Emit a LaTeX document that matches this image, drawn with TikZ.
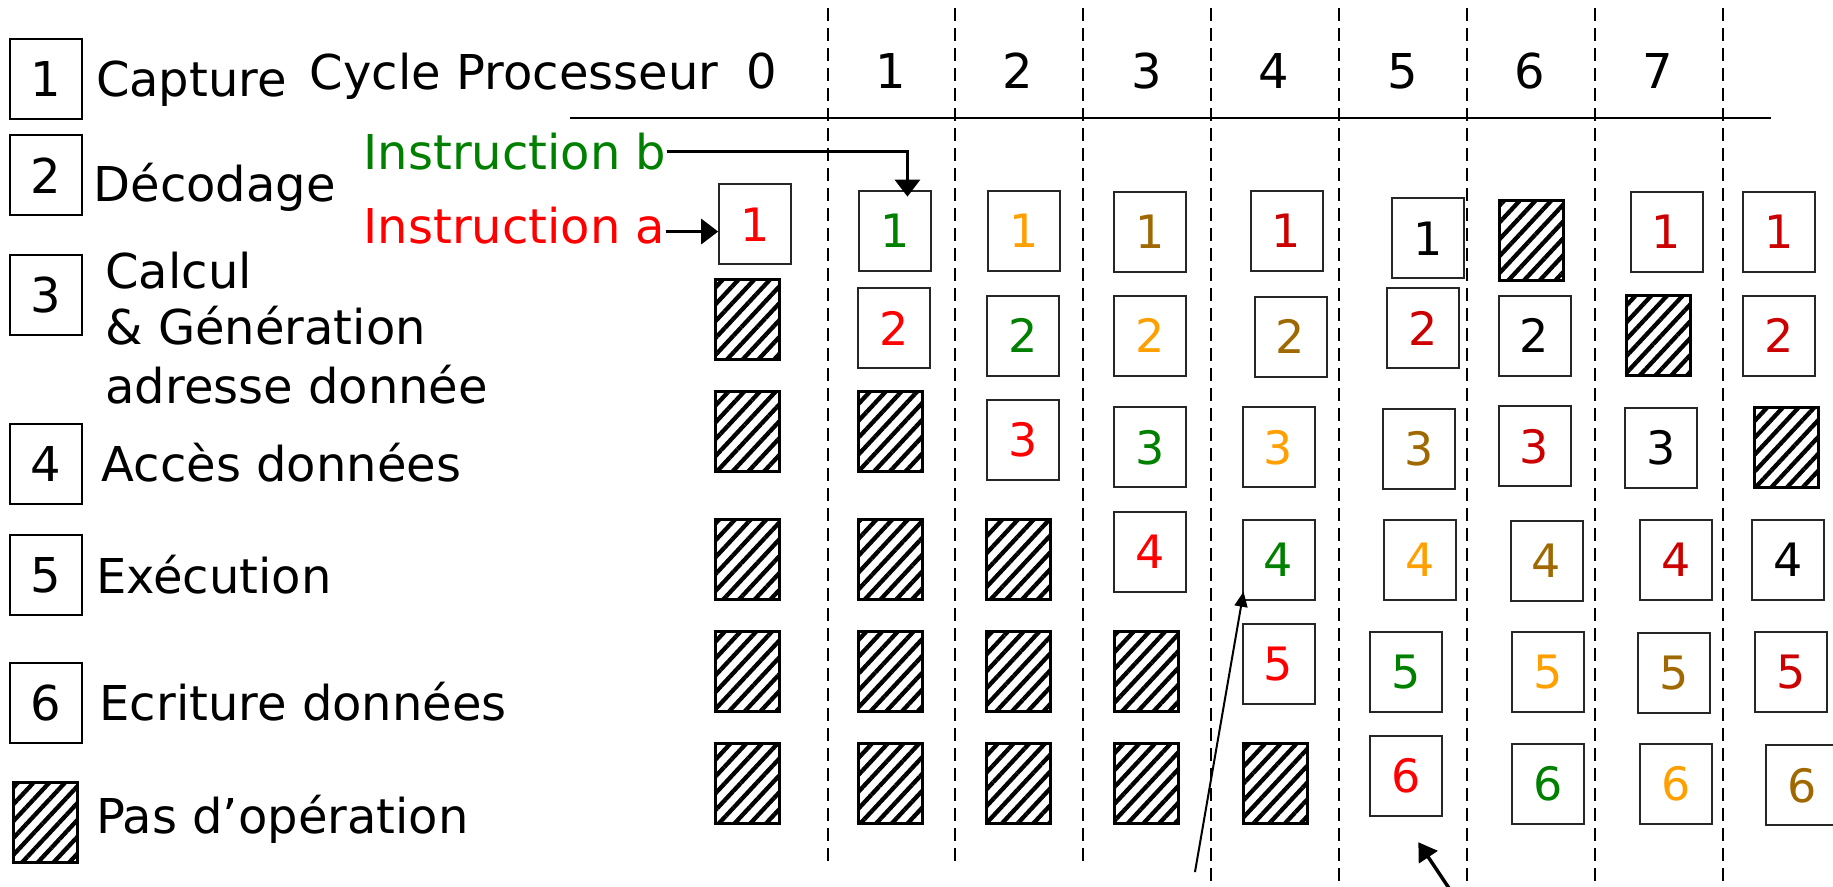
\documentclass[tikz,border=0pt]{standalone}
\usepackage{fontspec}
\setmainfont{DejaVu Sans}
\usetikzlibrary{arrows.meta,patterns.meta}

% one colour per instruction travelling through the pipeline
\definecolor{instA}{RGB}{255,0,0}
\definecolor{instB}{RGB}{0,128,0}
\definecolor{instC}{RGB}{255,160,0}
\definecolor{instD}{RGB}{160,104,0}
\definecolor{instE}{RGB}{204,0,0}
\definecolor{instF}{RGB}{0,0,0}

\tikzset{
  lbl/.style={inner sep=0pt, anchor=base west, font=\fontsize{48}{58}\selectfont},
  hdr/.style={inner sep=0pt, anchor=base, font=\fontsize{48}{58}\selectfont},
  legendbox/.style={draw, line width=2pt, minimum width=72pt, minimum height=80pt,
    inner sep=0pt, font=\fontsize{48}{48}\selectfont},
  stagebox/.style={draw=black!85, line width=2pt, fill=white, minimum width=72pt,
    minimum height=80pt, inner sep=0pt, font=\fontsize{46}{46}\selectfont},
  idle/.style={draw, line width=3pt, minimum width=64pt, minimum height=80pt, inner sep=0pt,
    preaction={fill=white},
    pattern={Lines[angle=47,distance=11.5pt,line width=4.3pt]}},
  cycleline/.style={dash pattern=on 13pt off 7pt, line width=2pt},
  bigarrow/.style={line width=3.3pt, -{Triangle[width=25pt,length=17pt]}},
}

\begin{document}
\begin{tikzpicture}[x=1.169pt, y=-1.169pt]
\useasboundingbox (0,0) rectangle (1568,758);
\fill[white] (0,0) rectangle (1568,758);

% cycle separators
\foreach \x/\yb in {708.5/742, 817/742, 926.5/742, 1036/762, 1145.5/762,
                    1255/762, 1364/762, 1474/762}
  \draw[cycleline] (\x,7) -- (\x,\yb);

% header
\node[lbl] (cyc) at (265,76.4) {Cycle Processeur};
\foreach \n/\x in {0/652, 1/762, 2/871, 3/981, 4/1090, 5/1200, 6/1309, 7/1418}
  \node[hdr] (h\n) at (\x,76) {\n};
\draw[line width=2.5pt] (488,101) -- (1515,101);

% legend
\node[legendbox] (k1) at (39.5,67.7) {1};
\node[lbl] (t1) at (82,82.7) {Capture};
\node[legendbox] (k2) at (39.5,150) {2};
\node[lbl] (t2) at (80,172) {Décodage};
\node[legendbox] (k3) at (39.5,252) {3};
\node[lbl] (t3a) at (90,246.6) {Calcul};
\node[lbl] (t3b) at (90,295) {\& Génération};
\node[lbl] (t3c) at (90,345) {adresse donnée};
\node[legendbox] (k4) at (39.5,396.6) {4};
\node[lbl] (t4) at (87,411.5) {Accès données};
\node[legendbox] (k5) at (39.5,492) {5};
\node[lbl] (t5) at (82,507.6) {Exécution};
\node[legendbox] (k6) at (39.5,601.5) {6};
\node[lbl] (t6) at (85,616.5) {Ecriture données};
\node[idle] (k0) at (38.5,704) {};
\node[lbl] (t0) at (82,712.9) {Pas d’opération};

% instruction labels
\node[lbl, text=instB] (ib) at (311,145.4) {Instruction b};
\node[lbl, text=instA] (ia) at (311,208) {Instruction a};

% cycle 0
\node[stagebox, text=instA] (c0r1) at (646,192) {1};
\node[idle] (c0r2) at (639,273.5) {};
\node[idle] (c0r3) at (639,369) {};
\node[idle] (c0r4) at (639,478.6) {};
\node[idle] (c0r5) at (639,574.6) {};
\node[idle] (c0r6) at (639,670.5) {};
% cycle 1
\node[stagebox, text=instB] (c1r1) at (766,197.3) {1};
\node[stagebox, text=instA] (c1r2) at (765,281) {2};
\node[idle] (c1r3) at (762,369) {};
\node[idle] (c1r4) at (762,478.6) {};
\node[idle] (c1r5) at (762,574.6) {};
\node[idle] (c1r6) at (762,670.5) {};
% cycle 2
\node[stagebox, text=instC] (c2r1) at (876,197.6) {1};
\node[stagebox, text=instB] (c2r2) at (875,287) {2};
\node[stagebox, text=instA] (c2r3) at (875,376) {3};
\node[idle] (c2r4) at (871.5,478.6) {};
\node[idle] (c2r5) at (871.5,574.6) {};
\node[idle] (c2r6) at (871.5,670.5) {};
% cycle 3
\node[stagebox, text=instD] (c3r1) at (984,198.6) {1};
\node[stagebox, text=instC] (c3r2) at (984,287) {2};
\node[stagebox, text=instB] (c3r3) at (984,382.6) {3};
\node[stagebox, text=instA] (c3r4) at (984,472) {4};
\node[idle] (c3r5) at (981,574.6) {};
\node[idle] (c3r6) at (981,670.5) {};
% cycle 4
\node[stagebox, text=instE] (c4r1) at (1100.5,197.6) {1};
\node[stagebox, text=instD] (c4r2) at (1104,288) {2};
\node[stagebox, text=instC] (c4r3) at (1093.7,382.7) {3};
\node[stagebox, text=instB] (c4r4) at (1093.7,478.8) {4};
\node[stagebox, text=instA] (c4r5) at (1093.7,568.3) {5};
\node[idle] (c4r6) at (1090.7,670.5) {};
% cycle 5
\node[stagebox, text=instF] (c5r1) at (1221.5,204) {1};
\node[stagebox, text=instE] (c5r2) at (1217,281) {2};
\node[stagebox, text=instD] (c5r3) at (1213.6,384) {3};
\node[stagebox, text=instC] (c5r4) at (1215,478.8) {4};
\node[stagebox, text=instB] (c5r5) at (1203,574.6) {5};
\node[stagebox, text=instA] (c5r6) at (1203,664) {6};
% cycle 6
\node[idle] (c6r1) at (1309.7,205.4) {};
\node[stagebox, text=instF] (c6r2) at (1312.7,287.2) {2};
\node[stagebox, text=instE] (c6r3) at (1312.7,381.8) {3};
\node[stagebox, text=instD] (c6r4) at (1323,480) {4};
\node[stagebox, text=instC] (c6r5) at (1324.5,574.6) {5};
\node[stagebox, text=instB] (c6r6) at (1324.5,670.4) {6};
% cycle 7
\node[stagebox, text=instE] (c7r1) at (1425.6,198.6) {1};
\node[idle] (c7r2) at (1419,287) {};
\node[stagebox, text=instF] (c7r3) at (1421,383) {3};
\node[stagebox, text=instE] (c7r4) at (1433.7,478.8) {4};
\node[stagebox, text=instD] (c7r5) at (1432,575.7) {5};
\node[stagebox, text=instC] (c7r6) at (1433.7,670.4) {6};
% cycle 8
\node[stagebox, text=instE] (c8r1) at (1521.5,198.6) {1};
\node[stagebox, text=instE] (c8r2) at (1521.5,287) {2};
\node[idle] (c8r3) at (1528.5,383) {};
\node[stagebox, text=instF] (c8r4) at (1529.4,478.8) {4};
\node[stagebox, text=instE] (c8r5) at (1531.8,574.6) {5};
\node[stagebox, text=instD] (c8r6) at (1541.5,671.8) {6};

% entry arrows of the two first instructions
\draw[bigarrow] ([yshift=11.6pt]ia.base east) coordinate (ia-out) -- (ia-out -| c0r1.west);
\draw[bigarrow] ([yshift=18.3pt]ib.base east) -| ([xshift=12pt,yshift=-7pt]c1r1.north);

% pointers from below
\coordinate (n1) at (1022.2,746);
\draw[line width=2pt, -{Triangle[width=13pt,length=15pt]}]
  (n1) -- ([xshift=2pt,yshift=9pt]c4r4.south west);
\coordinate (n2) at (1241,762);
\draw[line width=3.5pt, -{Triangle[width=22pt,length=18pt]}]
  (n2) -- ([xshift=12pt,yshift=-25pt]c5r6.south);
\end{tikzpicture}
\end{document}
